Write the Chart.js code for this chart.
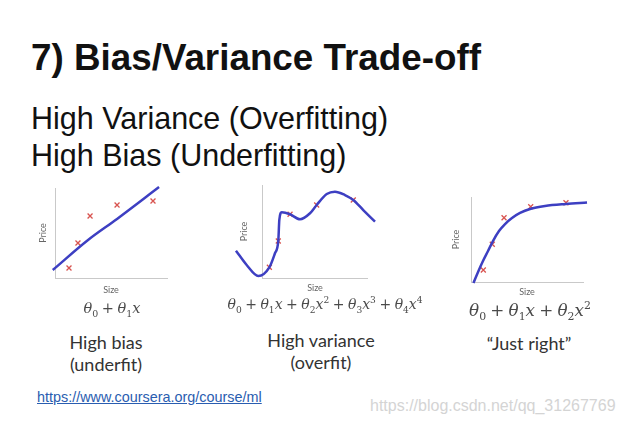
<!DOCTYPE html>
<html>
<head>
<meta charset="utf-8">
<script src="https://cdn.jsdelivr.net/npm/chart.js@4.4.0/dist/chart.umd.min.js"></script>
<style>
  html, body { margin: 0; padding: 0; background: #fff; }
  #slide { position: relative; width: 626px; height: 424px; overflow: hidden; background: #fff; }
  .abs { position: absolute; white-space: nowrap; line-height: 1; }
  .title { font: bold 36.8px "Liberation Sans", Arial, sans-serif; color: #111; left: 31px; top: 37px; }
  .sub { font: 30.5px "Liberation Sans", Arial, sans-serif; color: #111; left: 31px; }
  .lbl { font: 18px Lato, "Open Sans", sans-serif; color: #333; text-align: center; width: 200px; line-height: 22px; }
  .fx { font: 15px "DejaVu Serif", "Liberation Serif", serif; color: #4a4a4a; text-align: center; width: 260px; }
  .fx i { font-style: italic; }
  .fx b { font-weight: normal; padding: 0 0.25em; }
  .fx sub, .fx sup { font-size: 65%; line-height: 0; }
  .link { font: 14.4px "Liberation Sans", Arial, sans-serif; color: #2a5db0; text-decoration: underline; left: 37px; top: 389px; }
  .wm { font: 16px "Liberation Sans", Arial, sans-serif; color: #d4d4d4; left: 370px; top: 397px; }
  canvas { position: absolute; }
</style>
</head>
<body>
<div id="slide">
  <div class="abs title">7) Bias/Variance Trade-off</div>
  <div class="abs sub" style="top:101px">High Variance (Overfitting)</div>
  <div class="abs sub" style="top:138px">High Bias (Underfitting)</div>

  <canvas id="underfit"></canvas>
  <canvas id="overfit"></canvas>
  <canvas id="justright"></canvas>

  <div class="abs fx" style="left:-18px;top:300px;font-size:14.5px"><i>θ</i><sub>0</sub><b>+</b><i>θ</i><sub>1</sub><i>x</i></div>
  <div class="abs fx" style="left:195px;top:296px;font-size:14px"><i>θ</i><sub>0</sub><b>+</b><i>θ</i><sub>1</sub><i>x</i><b>+</b><i>θ</i><sub>2</sub><i>x</i><sup>2</sup><b>+</b><i>θ</i><sub>3</sub><i>x</i><sup>3</sup><b>+</b><i>θ</i><sub>4</sub><i>x</i><sup>4</sup></div>
  <div class="abs fx" style="left:400px;top:300px;font-size:16.8px"><i>θ</i><sub>0</sub><b>+</b><i>θ</i><sub>1</sub><i>x</i><b>+</b><i>θ</i><sub>2</sub><i>x</i><sup>2</sup></div>

  <div class="abs lbl" style="left:6px;top:331px">High bias<br>(underfit)</div>
  <div class="abs lbl" style="left:221px;top:329px">High variance<br>(overfit)</div>
  <div class="abs lbl" style="left:429px;top:332px">“Just right”</div>

  <div class="abs link">https://www.coursera.org/course/ml</div>
  <div class="abs wm">https://blog.csdn.net/qq_31267769</div>
</div>

<script>
// fitted curves (Size, Price), axes run 0..10
const underfitCurveX = [-0.2, 2.95, 5.54, 9.29];
const underfitCurveY = [0.89, 4.22, 6.56, 10.1];
const underfitPtsX = [1.25, 2.05, 3.13, 5.54, 8.75];
const underfitPtsY = [1.11, 3.89, 6.89, 8.11, 8.56];

const overfitCurveX = [-2.6, -1.57, -0.45, 0.61, 1.15, 1.47, 1.57, 1.8, 2.6, 3.56, 4.52, 5.16, 6.13, 6.92, 7.88, 8.68, 9.64, 10.77];
const overfitCurveY = [2.94, 1.4, 0.22, 1.15, 2.66, 3.98, 6.24, 7.06, 6.85, 6.31, 6.96, 7.85, 9.03, 9.28, 8.92, 8.39, 7.31, 6.05];
const overfitPtsX = [0.61, 1.47, 2.6, 5.16, 8.68];
const overfitPtsY = [1.15, 3.98, 6.85, 7.85, 8.39];

const rightCurveX = [0.22, 0.63, 1.07, 1.52, 1.96, 2.5, 3.04, 3.66, 4.38, 5.27, 6.61, 8.48, 10.36];
const rightCurveY = [-0.12, 1.18, 2.47, 3.65, 4.82, 6.0, 6.82, 7.53, 8.12, 8.59, 8.94, 9.18, 9.35];
const rightPtsX = [1.1, 1.9, 2.95, 5.33, 8.48];
const rightPtsY = [1.41, 4.44, 7.56, 8.86, 9.33];

const xTitle = 'Size';
const yTitle = 'Price';

const zip = (xs, ys) => xs.map((x, i) => ({ x: x, y: ys[i] }));

// box = wanted plot area on the slide, gaps = distance from axis to its title centre
const drawPanel = function (id, box, curveX, curveY, ptsX, ptsY) {
    const lh = 10.8;
    const yw = lh + 6 + (box.priceGap - 5.4);
    const xh = lh + (box.sizeGap - 5.4) + 2;
    const left = Math.floor(box.L - yw - 4);
    const top = box.T - 10;
    const width = box.R + 16 - left;
    const height = Math.ceil(box.B + xh + 4 - top);
    const cv = document.getElementById(id);
    cv.width = width; cv.height = height;
    cv.style.left = left + 'px'; cv.style.top = top + 'px';
    cv.style.width = width + 'px'; cv.style.height = height + 'px';

    // range fixed after the data limits, so points past the axes are still drawn
    const axis = (text, pad) => ({
        type: 'linear', bounds: 'data',
        afterDataLimits: s => { s.min = 0; s.max = 10; },
        ticks: { display: false },
        grid: { display: false, drawTicks: false },
        border: { display: true, color: '#c9c9c9', width: 1 },
        title: { display: true, text: text, color: '#666', font: { size: 9, family: 'Lato, sans-serif' }, padding: pad }
    });

    new Chart(cv, {
        type: 'scatter',
        data: {
            datasets: [{
                data: zip(curveX, curveY),
                showLine: true,
                borderColor: '#3d3fc2',
                borderWidth: 2.5,
                pointRadius: 0,
                cubicInterpolationMode: 'monotone',
                clip: false,
                order: 0
            }, {
                data: zip(ptsX, ptsY),
                pointStyle: 'crossRot',
                pointRadius: 3.5,
                borderColor: '#d8534f',
                backgroundColor: '#d8534f',
                borderWidth: 1.3,
                clip: false,
                order: 1
            }]
        },
        options: {
            responsive: false,
            animation: false,
            layout: { padding: { left: box.L - yw - left, top: 10, right: 16, bottom: height - (box.B - top) - xh } },
            plugins: { legend: { display: false }, tooltip: { enabled: false } },
            scales: {
                x: axis(xTitle, { top: box.sizeGap - 5.4, bottom: 2 }),
                y: axis(yTitle, { top: 6, bottom: box.priceGap - 5.4 })
            }
        }
    });
};

drawPanel('underfit', { L: 55, T: 188, R: 167, B: 278, priceGap: 12, sizeGap: 12.5 },
    underfitCurveX, underfitCurveY, underfitPtsX, underfitPtsY);
drawPanel('overfit', { L: 263, T: 185, R: 367, B: 278, priceGap: 19, sizeGap: 10.3 },
    overfitCurveX, overfitCurveY, overfitPtsX, overfitPtsY);
drawPanel('justright', { L: 471, T: 197, R: 583, B: 282, priceGap: 15, sizeGap: 10.3 },
    rightCurveX, rightCurveY, rightPtsX, rightPtsY);
</script>
</body>
</html>
